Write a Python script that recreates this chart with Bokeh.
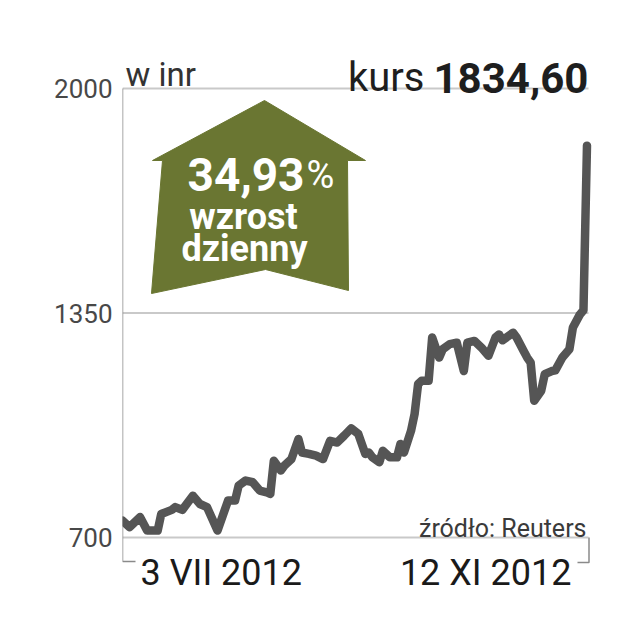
from bokeh.plotting import figure
from bokeh.models import Range1d, FixedTicker
from bokeh.core.properties import value
from bokeh.embed import file_html
from bokeh.resources import INLINE

# ---------------- data ----------------
# day = calendar days after 3 VII 2012
day = [0, 2, 5, 7, 10, 11, 14, 15, 17, 20, 22, 24, 27, 30, 32, 33, 35, 37, 39, 41,
       42, 43, 45, 46, 48, 50, 51, 53, 55, 57, 59, 61, 63, 65, 67, 69, 70, 71, 73, 74,
       76, 78, 79, 80, 82, 83, 84, 85, 87, 88, 89, 90, 91, 93, 95, 97, 98, 100, 102, 104,
       106, 107, 108, 111, 112, 114, 115, 116, 117, 119, 120, 122, 123, 125, 127, 128, 130, 131, 132]
price = [749, 730, 759, 720, 720, 768, 780, 788, 780, 821, 797, 788, 720, 807, 807, 850, 865, 860, 836, 831,
         826, 922, 894, 908, 927, 985, 946, 942, 937, 927, 980, 975, 995, 1016, 1000, 942, 946, 932, 918, 951,
         932, 932, 971, 946, 1009, 1057, 1144, 1154, 1154, 1279, 1250, 1221, 1245, 1260, 1264, 1182, 1264, 1269, 1250, 1226,
         1279, 1288, 1271, 1293, 1279, 1240, 1221, 1206, 1096, 1125, 1173, 1182, 1184, 1221, 1245, 1308, 1346, 1358, 1834.6]
y_ticks = [700, 1350, 2000]
x_labels = ["3 VII 2012", "12 XI 2012"]
last_day = 133
unit_label = "w inr"
kurs_word = "kurs"
kurs_value = "1834,60"
change_value = "34,93"
change_lines = ["wzrost", "dzienny"]
source = "źródło: Reuters"

# ---------------- layout helpers ----------------
W, H = 632, 618
PAGE = 0
AX_PX = 122          # x of the value axis (day 0)
END_PX = 588         # x of the right end of the plot
TOP_PX, BOT_PX = 88, 537   # y of 2000 and 700
DPP = last_day / (END_PX + 2 - AX_PX)
VPP = (y_ticks[-1] - y_ticks[0]) / (BOT_PX - TOP_PX)


def px2x(px):
    return (px - AX_PX) * DPP


def py2y(py):
    return y_ticks[-1] - (py - TOP_PX) * VPP


FONT = value("Roboto")

p = figure(width=W, height=H,
           x_range=Range1d(px2x(AX_PX), px2x(PAGE + W)),
           y_range=Range1d(py2y(PAGE + H), py2y(PAGE)),
           x_axis_location=None, y_axis_location="left",
           toolbar_location=None, output_backend="svg",
           min_border=0, min_border_left=AX_PX - PAGE,
           outline_line_color=None, background_fill_color="white",
           border_fill_color="white")
p.grid.visible = False

ax = p.yaxis[0]
ax.ticker = FixedTicker(ticks=y_ticks)
ax.axis_line_color = None
ax.major_tick_line_color = None
ax.minor_tick_line_color = None
ax.major_tick_out = 0
ax.major_tick_in = 0
ax.major_label_standoff = 10
ax.major_label_text_font = "Roboto"
ax.major_label_text_font_size = "26px"
ax.major_label_text_color = "#484848"

# gridlines
x_end = px2x(END_PX)
p.segment(x0=[0] * len(y_ticks), x1=[x_end] * len(y_ticks), y0=y_ticks, y1=y_ticks,
          line_color="#c9c9c9", line_width=2)

# axis line with left bracket, right bracket
yb = py2y(561)
p.line(x=[0, 0, px2x(135)], y=[y_ticks[-1], yb, yb], line_color="#8a8a8a", line_width=1.5)
xr = px2x(END_PX + 0.5)
p.line(x=[px2x(577), xr, xr], y=[py2y(562), py2y(562), y_ticks[0]],
       line_color="#8a8a8a", line_width=1.5)

# arrow
arrow_px = [(264, 100), (365, 160), (347, 160), (348, 290), (265, 269),
            (151, 293), (162, 160), (152, 160)]
p.patch(x=[px2x(a) for a, b in arrow_px], y=[py2y(b) for a, b in arrow_px],
        fill_color="#6a7632", line_color="#6a7632", line_width=1)

p.text(x=[px2x(304)], y=[py2y(174)], text=[change_value], text_font=FONT,
       text_font_style="bold", text_font_size="46px", text_color="white",
       text_align="right", text_baseline="alphabetic")
p.text(x=[px2x(306)], y=[py2y(174)], text=["%"], text_font=FONT,
       text_font_size="38px", text_color="white",
       text_align="left", text_baseline="alphabetic")
p.text(x=[px2x(243), px2x(244)], y=[py2y(216), py2y(248)], text=change_lines,
       text_font=FONT, text_font_style="bold", text_font_size="36px",
       text_color="white", text_align="center", text_baseline="alphabetic")

# price line
p.line(x=day, y=price, line_color="#555555", line_width=8.5,
       line_join="round", line_cap="round")

# header texts
p.text(x=[px2x(125)], y=[py2y(74)], text=[unit_label], text_font=FONT,
       text_font_size="33px", text_color="#333333", text_baseline="alphabetic")
p.text(x=[px2x(424)], y=[py2y(77)], text=[kurs_word], text_font=FONT,
       text_font_size="40px", text_color="#1e1e1e", text_align="right",
       text_baseline="alphabetic")
p.text(x=[px2x(433)], y=[py2y(77)], text=[kurs_value], text_font=FONT,
       text_font_style="bold", text_font_size="42px", text_color="#1e1e1e",
       text_align="left", text_baseline="alphabetic")

# source
p.text(x=[px2x(586)], y=[py2y(528)], text=[source], text_font=FONT,
       text_font_size="25px", text_color="#3a3a3a", text_align="right",
       text_baseline="alphabetic")

# date labels
p.text(x=[px2x(140), px2x(571)], y=[py2y(572), py2y(572)], text=x_labels,
       text_font=FONT, text_font_size="36px", text_color="#1a1a1a",
       text_align=["left", "right"], text_baseline="alphabetic")

open("out.html", "w").write(file_html(p, INLINE))
